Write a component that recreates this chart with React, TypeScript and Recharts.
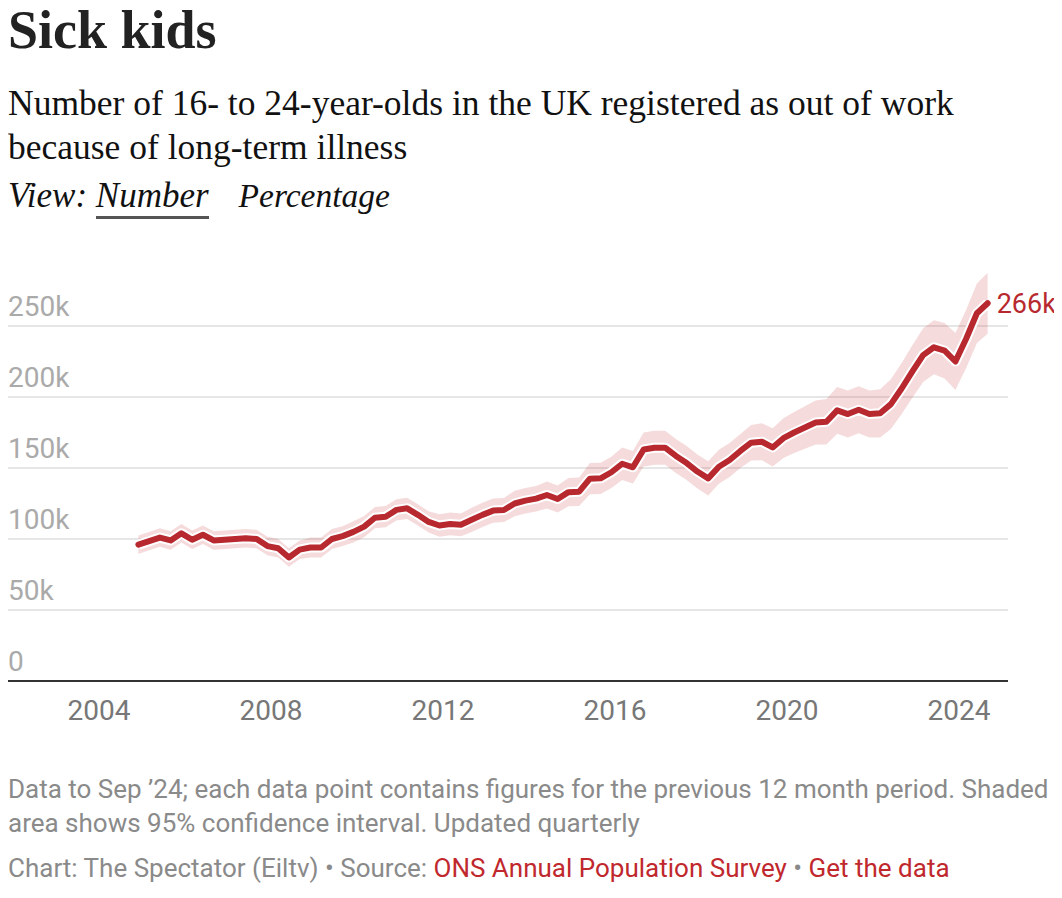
import React from "react";
import {
  ComposedChart,
  Line,
  Area,
  XAxis,
  YAxis,
  CartesianGrid,
  LabelList,
} from "recharts";

// quarterly rolling 12-month figures, first period ends Dec 2004
const firstPeriod = { year: 2004, month: 12 };

// thousands of 16-24 year olds, economically inactive due to long-term sickness
const sickThousands = [
  96, 98.5, 101, 99, 104, 99.5, 103, 99, 99.5, 100,
  100.5, 100, 95, 93.5, 87, 92.5, 94, 94, 100, 102,
  105, 108.7, 115, 115.7, 120.5, 121.6, 117, 112, 109.5, 110.6,
  110, 113.5, 117, 120, 120.4, 125, 127, 128.4, 131, 128.2,
  133, 133.3, 142.5, 142.7, 147, 153, 150.5, 163, 164.3, 164.3,
  158.5, 153.5, 147.5, 142.7, 150.9, 155.6, 162, 167.8, 168.5, 164.5,
  171, 175, 178.5, 182, 182.6, 190.6, 188, 191, 188, 188.5,
  195, 206, 218, 229.5, 235, 232.6, 225, 241, 259, 266,
];

// half-width of the 95% confidence interval, thousands
const ciHalfWidth = [
  6.5, 6.5, 6.5, 6.5, 6.5, 6.5, 6.5, 6.5, 6.5, 6.5,
  6.5, 6.5, 6.5, 6.5, 6.5, 6.5, 7, 7, 7, 7,
  7.5, 7.5, 7.5, 7.5, 7.5, 7.5, 7.5, 7.5, 8, 8,
  8, 8.5, 8.5, 8.5, 8.5, 9, 9, 9, 9.5, 9.5,
  10, 10, 11, 11, 11, 11.5, 11.5, 12, 12, 12,
  12, 12, 12, 12, 12, 12, 12, 12.5, 13, 13.5,
  14, 14.5, 15, 15.5, 16, 16.5, 16.5, 16.5, 16.5, 17,
  17.5, 18, 18.5, 19, 19, 19.5, 20, 20.5, 21, 21.5,
];

const yTicks = [0, 50000, 100000, 150000, 200000, 250000];
const xTicks = [2004, 2008, 2012, 2016, 2020, 2024];

const data = sickThousands.map((v, i) => {
  const months = firstPeriod.month - 1 + i * 3;
  return {
    t: firstPeriod.year + months / 12,
    value: v * 1000,
    band: [(v - ciHalfWidth[i]) * 1000, (v + ciHalfWidth[i]) * 1000],
  };
});

const RED = "#b8292f";
const LABEL_FONT = "Roboto, 'Noto Sans', sans-serif";
const SERIF = "'Liberation Serif', 'DejaVu Serif', serif";

const fmtK = (v: number) => (v === 0 ? "0" : `${v / 1000}k`);

const YTick = (props: any) => {
  const { y, payload } = props;
  return (
    <text x={0} y={y - 10} fill="#aaaaaa" fontSize={28} fontFamily={LABEL_FONT} textAnchor="start">
      {fmtK(payload.value)}
    </text>
  );
};

const XTick = (props: any) => {
  const { x, y, payload } = props;
  return (
    <text
      x={x}
      y={y + 39}
      fill="#777777"
      fontSize={28}
      fontFamily={LABEL_FONT}
      textAnchor="middle"
    >
      {payload.value}
    </text>
  );
};

const EndLabel = (props: any) => {
  const { x, y, index, value } = props;
  if (index !== data.length - 1) return null;
  return (
    <text x={x + 9} y={y + 10} fill={RED} fontSize={27} fontFamily={LABEL_FONT}>
      {Math.round(value / 1000)}k
    </text>
  );
};

const App: React.FC = () => {
  return (
    <div style={{ position: "relative", width: 1046, height: 882, background: "#fff" }}>
      <style>{"html,body{overflow:hidden;}"}</style>
      <div
        style={{
          position: "absolute",
          top: -5,
          left: 0,
          fontFamily: SERIF,
          fontWeight: 700,
          fontSize: 54,
          lineHeight: "54px",
          color: "#222",
        }}
      >
        Sick kids
      </div>
      <div
        style={{
          position: "absolute",
          top: 73,
          left: 0,
          fontFamily: SERIF,
          fontSize: 35.5,
          lineHeight: "44px",
          color: "#111",
          whiteSpace: "nowrap",
        }}
      >
        Number of 16- to 24-year-olds in the UK registered as out of work
        <br />
        because of long-term illness
      </div>
      <div
        style={{
          position: "absolute",
          top: 170,
          left: 0,
          fontFamily: SERIF,
          fontStyle: "italic",
          fontSize: 35,
          lineHeight: "35px",
          color: "#111",
          whiteSpace: "nowrap",
        }}
      >
        View:{" "}
        <span
          style={{
            display: "inline-block",
            borderBottom: "3px solid #555",
            paddingBottom: 3,
          }}
        >
          Number
        </span>
        <span style={{ marginLeft: 30, fontSize: 33.5 }}>Percentage</span>
      </div>

      <div style={{ position: "absolute", top: 235, left: 0 }}>
        <ComposedChart
          width={1054}
          height={500}
          data={data}
          margin={{ top: 12, right: 54, bottom: 0, left: 0 }}
        >
          <CartesianGrid
            horizontal
            vertical={false}
            horizontalValues={yTicks}
            stroke="#e6e6e6"
            strokeWidth={2}
          />
          <XAxis
            dataKey="t"
            type="number"
            domain={[2001.884, 2025.14]}
            ticks={xTicks}
            tickLine={false}
            tickSize={0}
            tickMargin={0}
            axisLine={{ stroke: "#333", strokeWidth: 2 }}
            height={62}
            tick={<XTick />}
          />
          <YAxis
            type="number"
            domain={[0, 300000]}
            ticks={yTicks}
            interval={0}
            axisLine={false}
            tickLine={false}
            mirror
            width={60}
            tick={<YTick />}
          />
          <Area
            dataKey="band"
            type="linear"
            stroke="none"
            fill="#c8383c"
            fillOpacity={0.18}
            isAnimationActive={false}
          />
          <Line
            dataKey="value"
            type="linear"
            stroke="#ffffff"
            strokeWidth={10}
            dot={false}
            strokeLinejoin="round"
            isAnimationActive={false}
          />
          <Line
            dataKey="value"
            type="linear"
            stroke={RED}
            strokeWidth={6}
            dot={false}
            strokeLinejoin="round"
            strokeLinecap="round"
            isAnimationActive={false}
          >
            <LabelList dataKey="value" content={<EndLabel />} />
          </Line>
        </ComposedChart>
      </div>

      <div
        style={{
          position: "absolute",
          top: 764,
          left: 0,
          fontFamily: LABEL_FONT,
          fontSize: 26,
          lineHeight: "34px",
          color: "#8a8a8a",
          whiteSpace: "nowrap",
        }}
      >
        Data to Sep ’24; each data point contains figures for the previous 12 month period. Shaded
        <br />
        area shows 95% confidence interval. Updated quarterly
        <div style={{ marginTop: 11 }}>
          Chart: The Spectator (Eiltv) • Source:{" "}
          <span style={{ color: "#c0282d" }}>ONS Annual Population Survey</span> •{" "}
          <span style={{ color: "#c0282d" }}>Get the data</span>
        </div>
      </div>
    </div>
  );
};

export default App;
